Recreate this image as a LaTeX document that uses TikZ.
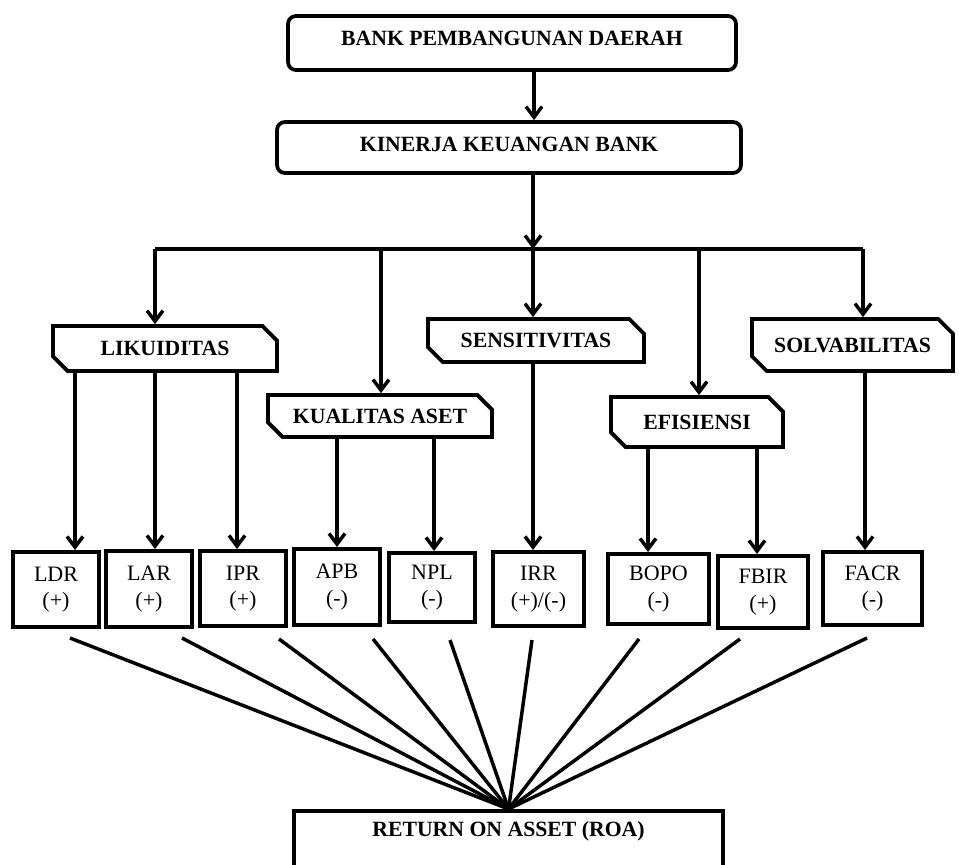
\documentclass[tikz,border=0pt]{standalone}
\usepackage{fontspec}
\setmainfont{Liberation Serif}
\usetikzlibrary{arrows.meta,shapes.misc}
\begin{document}
\begin{tikzpicture}[x=0.75pt,y=-0.75pt,
  sz/.style 2 args={minimum width=#1*0.75pt,minimum height=#2*0.75pt},
  hdrfont/.style={font=\bfseries\fontsize{16.3}{19}\selectfont},
  topbox/.style={draw,line width=2.8pt,rounded corners=6pt,inner sep=0pt,hdrfont},
  catbox/.style={draw,line width=2.8pt,chamfered rectangle,
    chamfered rectangle corners={north east,south west},
    chamfered rectangle xsep=5.5pt,chamfered rectangle ysep=5.5pt,inner sep=0pt,hdrfont},
  metbox/.style={draw,line width=3pt,inner sep=0pt,align=center,
    font=\fontsize{16.5}{20}\selectfont},
  roabox/.style={draw,line width=2.8pt,inner sep=0pt,anchor=north},
  conn/.style={line width=2.6pt},
  arr/.style={conn,-{Straight Barb[length=8pt,width=12pt]}},
]
\clip (0,0) rectangle (959,864);
\fill[white] (0,0) rectangle (959,864);

% top boxes
\node[topbox,sz={448}{54},text depth=7pt] (bpd) at (512,43) {BANK PEMBANGUNAN DAERAH};
\node[topbox,sz={464}{51},text depth=5pt] (kkb) at (509,147.5) {KINERJA KEUANGAN BANK};

% categories
\node[catbox,sz={224}{45}] (lik) at (165,348.5) {LIKUIDITAS};
\node[catbox,sz={224}{42}] (kua) at (380,416) {KUALITAS ASET};
\node[catbox,sz={216}{43}] (sen) at (536,340.5) {SENSITIVITAS};
\node[catbox,sz={172}{50}] (efi) at (697,422) {EFISIENSI};
\node[catbox,sz={201}{52}] (sol) at (852.5,345) {SOLVABILITAS};

% metric boxes
\node[metbox,sz={86}{75}] (ldr) at (56,589.5) {LDR\\(+)};
\node[metbox,sz={86}{76}] (lar) at (149,589) {LAR\\(+)};
\node[metbox,sz={86}{75}] (ipr) at (243,588.5) {IPR\\(+)};
\node[metbox,sz={86}{76}] (apb) at (337,587) {APB\\(-)};
\node[metbox,sz={86}{69}] (npl) at (432,587.5) {NPL\\(-)};
\node[metbox,sz={91}{74}] (irr) at (538.5,589) {IRR\\(+)/(-)};
\node[metbox,sz={101}{70}] (bopo) at (658.5,589) {BOPO\\(-)};
\node[metbox,sz={90}{72}] (fbir) at (763,592) {FBIR\\(+)};
\node[metbox,sz={99}{73}] (facr) at (872.5,588.5) {FACR\\(-)};

% ROA
\node[roabox,sz={429}{130}] (roa) at (508.5,809) {};
\node[hdrfont,inner sep=0pt] (roat) at (508.5,831) {RETURN ON ASSET (ROA)};

% top arrows
\draw[arr] ([xshift=22*0.75pt]bpd.south) -- ([xshift=25*0.75pt]kkb.north);
\coordinate (busL) at (155,249);
\coordinate (busK) at (381,249);
\coordinate (busM) at (533,249);
\coordinate (busE) at (699,249);
\coordinate (busR) at (863,249);
\draw[arr] ([xshift=24*0.75pt]kkb.south) -- (busM);
\draw[conn] (busL) -- (busR);
\draw[arr] (busL) -- (busL |- lik.north);
\draw[arr] (busK) -- (busK |- kua.north);
\draw[arr] (busM) -- (busM |- sen.north);
\draw[arr] (busE) -- (busE |- efi.north);
\draw[arr] (busR) -- (busR |- sol.north);

% category -> metric
\draw[arr] ([xshift=-90*0.75pt]lik.south) -- ([xshift=19*0.75pt]ldr.north);
\draw[arr] ([xshift=-10*0.75pt]lik.south) -- ([xshift=6*0.75pt]lar.north);
\draw[arr] ([xshift=72*0.75pt]lik.south) -- ([xshift=-6*0.75pt]ipr.north);
\draw[arr] ([xshift=-43*0.75pt]kua.south) -- (apb.north);
\draw[arr] ([xshift=54*0.75pt]kua.south) -- ([xshift=2*0.75pt]npl.north);
\draw[arr] ([xshift=-3*0.75pt]sen.south) -- ([xshift=-5.5*0.75pt]irr.north);
\draw[arr] ([xshift=-49*0.75pt]efi.south) -- ([xshift=-10.5*0.75pt]bopo.north);
\draw[arr] ([xshift=60*0.75pt]efi.south) -- ([xshift=-6*0.75pt]fbir.north);
\draw[arr] ([xshift=12.5*0.75pt]sol.south) -- ([xshift=-7.5*0.75pt]facr.north);

% metric -> ROA
\coordinate (eLDR) at (70,638);
\coordinate (eLAR) at (182,638);
\coordinate (eIPR) at (279,639);
\coordinate (eAPB) at (373,639);
\coordinate (eNPL) at (450,640);
\coordinate (eIRR) at (532,640);
\coordinate (eBOPO) at (639,639);
\coordinate (eFBIR) at (740,639);
\coordinate (eFACR) at (867,638);
\foreach \e in {eLDR,eLAR,eIPR,eAPB,eNPL,eIRR,eBOPO,eFBIR,eFACR}
  \draw[conn] (\e) -- (roa.north);
\end{tikzpicture}
\end{document}
